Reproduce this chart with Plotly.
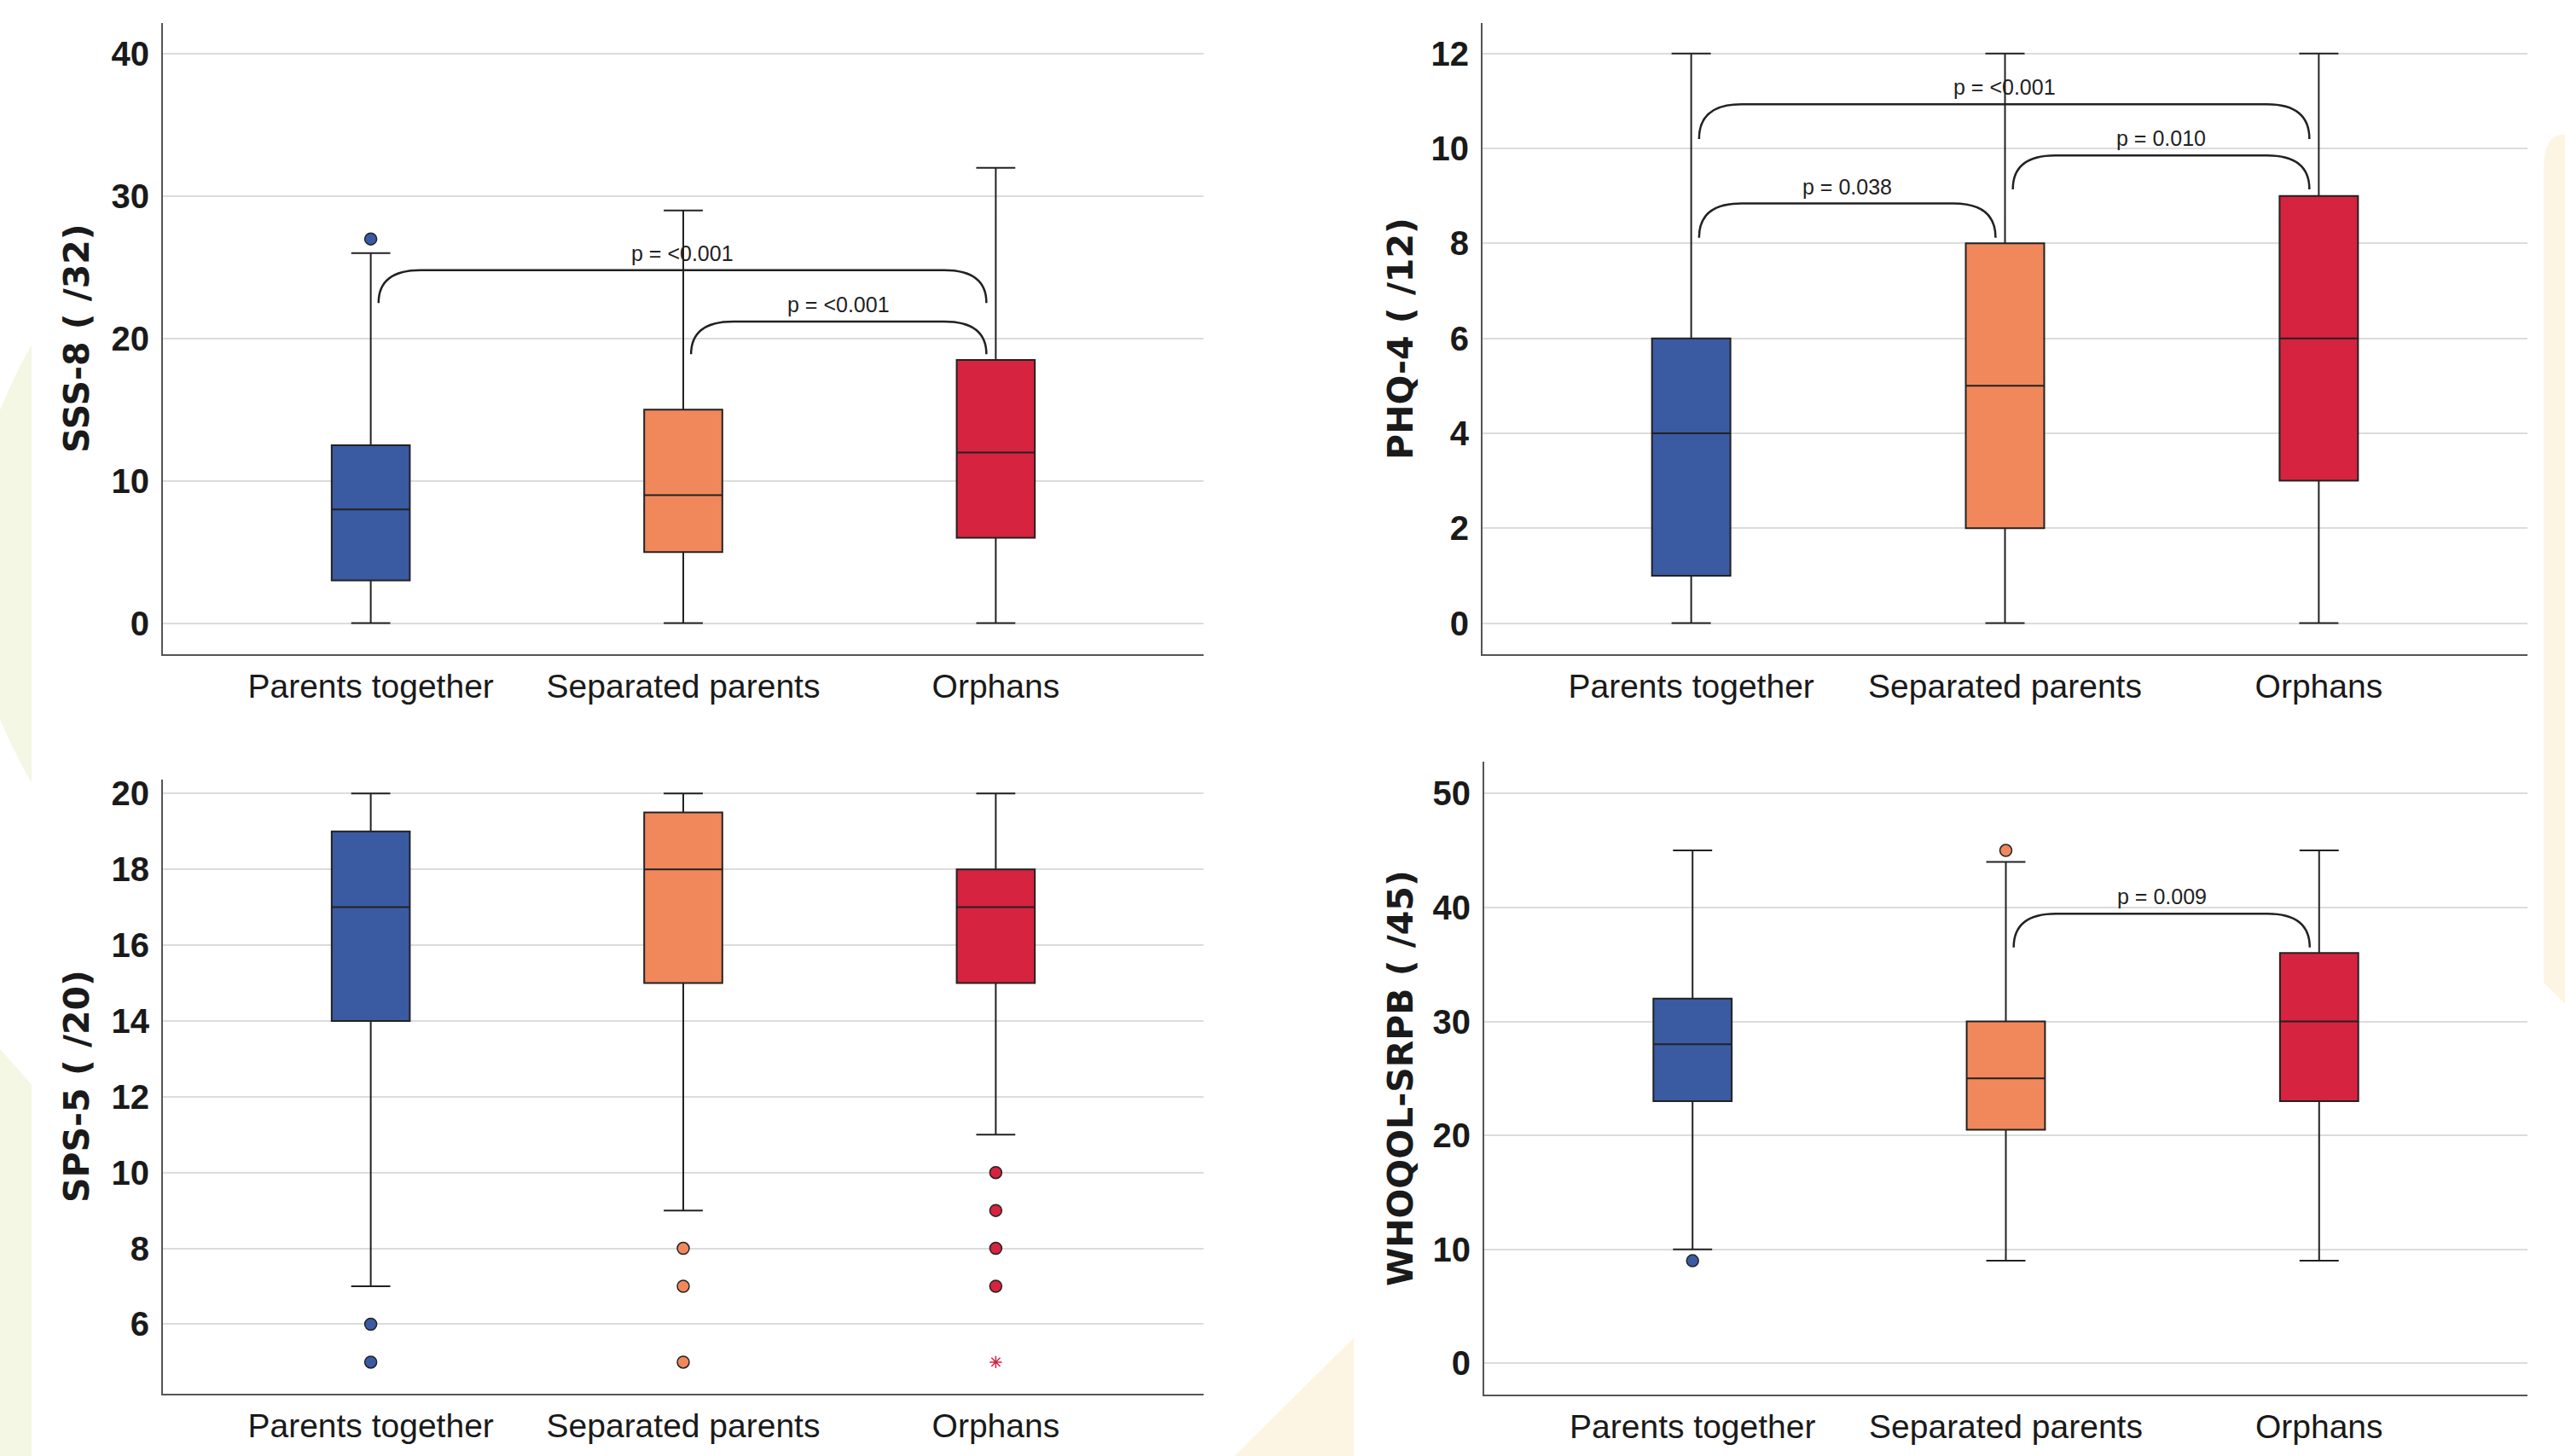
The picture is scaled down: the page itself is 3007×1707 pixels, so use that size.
import plotly.graph_objects as go

W, H = 3007, 1707

categories = ["Parents together", "Separated parents", "Orphans"]
colors = ["#3A5AA2", "#F0885C", "#D6233F"]

# ---- panel data: (lower whisker, Q1, median, Q3, upper whisker) per group
sss_low = [0, 0, 0]
sss_q1 = [3, 5, 6]
sss_med = [8, 9, 12]
sss_q3 = [12.5, 15, 18.5]
sss_high = [26, 29, 32]
sss_out = [[27], [], []]
sss_ext = [[], [], []]

phq_low = [0, 0, 0]
phq_q1 = [1, 2, 3]
phq_med = [4, 5, 6]
phq_q3 = [6, 8, 9]
phq_high = [12, 12, 12]
phq_out = [[], [], []]
phq_ext = [[], [], []]

sps_low = [7, 9, 11]
sps_q1 = [14, 15, 15]
sps_med = [17, 18, 17]
sps_q3 = [19, 19.5, 18]
sps_high = [20, 20, 20]
sps_out = [[6, 5], [8, 7, 5], [10, 9, 8, 7]]
sps_ext = [[], [], [5]]

who_low = [10, 9, 9]
who_q1 = [23, 20.5, 23]
who_med = [28, 25, 30]
who_q3 = [32, 30, 36]
who_high = [45, 44, 45]
who_out = [[9], [45], []]
who_ext = [[], [], []]

# significance brackets: (group i, group j, bracket top, bracket foot, label)
sss_br = [(0, 2, 24.8, 22.5, "p = <0.001"), (1, 2, 21.2, 18.9, "p = <0.001")]
phq_br = [(0, 2, 10.93, 10.2, "p = <0.001"), (0, 1, 8.84, 8.12, "p = 0.038"),
          (1, 2, 9.85, 9.14, "p = 0.010")]
sps_br = []
who_br = [(1, 2, 39.45, 36.5, "p = 0.009")]

titles = ["SSS-8 ( /32)", "PHQ-4 ( /12)", "SPS-5 ( /20)", "WHOQOL-SRPB ( /45)"]

panels = [
    dict(low=sss_low, q1=sss_q1, med=sss_med, q3=sss_q3, high=sss_high, out=sss_out, ext=sss_ext,
         br=sss_br, yr=[-2.2, 42.2], dtick=10, dom_x=[191, 1411], dom_y=[20.6, 764], title_x=90),
    dict(low=phq_low, q1=phq_q1, med=phq_med, q3=phq_q3, high=phq_high, out=phq_out, ext=phq_ext,
         br=phq_br, yr=[-0.66, 12.65], dtick=2, dom_x=[1738, 2963], dom_y=[20.6, 764], title_x=1642),
    dict(low=sps_low, q1=sps_q1, med=sps_med, q3=sps_q3, high=sps_high, out=sps_out, ext=sps_ext,
         br=sps_br, yr=[4.16, 20.37], dtick=2, dom_x=[191, 1411], dom_y=[911, 1634], title_x=90),
    dict(low=who_low, q1=who_q1, med=who_med, q3=who_q3, high=who_high, out=who_out, ext=who_ext,
         br=who_br, yr=[-2.76, 52.8], dtick=10, dom_x=[1740, 2963], dom_y=[890, 1635], title_x=1642),
]


def pxx(x):
    return x / W


def pyy(y):
    return 1 - y / H


fig = go.Figure()
layout = dict(
    width=W, height=H, autosize=False,
    margin=dict(l=0, r=0, t=0, b=0),
    paper_bgcolor="white", plot_bgcolor="white",
    showlegend=False, boxmode="overlay",
)
shapes = []
annotations = []

GREEN = "#F3F7E4"
CREAM = "#FDF5E3"
# background decorations
shapes.append(dict(type="path", xref="paper", yref="paper",
                   path=(f"M {pxx(37)},{pyy(400)} Q {pxx(-110)},{pyy(660)} {pxx(37)},{pyy(915)} Z"),
                   fillcolor=GREEN, line=dict(width=0), layer="below"))
shapes.append(dict(type="path", xref="paper", yref="paper",
                   path=f"M {pxx(0)},{pyy(1228)} L {pxx(37)},{pyy(1270)} L {pxx(37)},{pyy(1707)} L {pxx(0)},{pyy(1707)} Z",
                   fillcolor=GREEN, line=dict(width=0), layer="below"))
shapes.append(dict(type="path", xref="paper", yref="paper",
                   path=f"M {pxx(1447)},{pyy(1707)} L {pxx(1587)},{pyy(1568)} L {pxx(1587)},{pyy(1707)} Z",
                   fillcolor=CREAM, line=dict(width=0), layer="below"))
shapes.append(dict(type="path", xref="paper", yref="paper",
                   path=(f"M {pxx(2982)},{pyy(1150)} L {pxx(2982)},{pyy(190)} "
                         f"Q {pxx(2982)},{pyy(152)} {pxx(3007)},{pyy(152)} "
                         f"L {pxx(3007)},{pyy(1175)} Z"),
                   fillcolor=CREAM, line=dict(width=0), layer="below"))

for k, p in enumerate(panels):
    n = "" if k == 0 else str(k + 1)
    xa, ya = "x" + n, "y" + n
    for i in range(3):
        fig.add_trace(go.Box(
            x=[i], q1=[p["q1"][i]], median=[p["med"][i]], q3=[p["q3"][i]],
            lowerfence=[p["low"][i]], upperfence=[p["high"][i]],
            width=0.25, whiskerwidth=0.5, fillcolor=colors[i],
            line=dict(color="#222222", width=2), boxpoints=False,
            xaxis=xa, yaxis=ya, hoverinfo="skip"))
        if p["out"][i]:
            fig.add_trace(go.Scatter(
                x=[i] * len(p["out"][i]), y=p["out"][i], mode="markers",
                marker=dict(symbol="circle", size=14, color=colors[i],
                            line=dict(color="#222222", width=1.5)),
                xaxis=xa, yaxis=ya, hoverinfo="skip"))
        if p["ext"][i]:
            fig.add_trace(go.Scatter(
                x=[i] * len(p["ext"][i]), y=p["ext"][i], mode="markers",
                marker=dict(symbol="asterisk-open", size=12, color=colors[i],
                            line=dict(color=colors[i], width=1.5)),
                xaxis=xa, yaxis=ya, hoverinfo="skip"))

    layout["xaxis" + n] = dict(
        domain=[pxx(p["dom_x"][0]), pxx(p["dom_x"][1])], anchor=ya,
        range=[-0.665, 2.665], tickmode="array", tickvals=[0, 1, 2], ticktext=categories,
        showgrid=False, zeroline=False, showline=True, linecolor="#555555", linewidth=2,
        ticks="", ticklen=0, ticklabelstandoff=2,
        tickfont=dict(family="Liberation Sans, Arial, sans-serif", size=39, color="#1a1a1a"),
        fixedrange=True)
    layout["yaxis" + n] = dict(
        domain=[pyy(p["dom_y"][1]), pyy(p["dom_y"][0])], anchor=xa,
        range=p["yr"], dtick=p["dtick"], tick0=0,
        showgrid=True, gridcolor="#DCDCDC", gridwidth=2, zeroline=False,
        showline=True, linecolor="#555555", linewidth=2, ticks="", ticklen=0, ticklabelstandoff=6,
        tickfont=dict(family="Liberation Sans, Arial, sans-serif",
                      size=40, color="#1a1a1a", weight="bold"),
        fixedrange=True)

    annotations.append(dict(
        text=titles[k], textangle=-90, xref="paper", yref="paper",
        x=pxx(p["title_x"]), y=pyy((p["dom_y"][0] + p["dom_y"][1]) / 2),
        xanchor="center", yanchor="middle", showarrow=False,
        font=dict(family="DejaVu Sans, Arial, sans-serif", size=41, color="#1a1a1a", weight="bold")))

    dx = 0.135
    for (i, j, ytop, yfoot, lab) in p["br"]:
        x0, x1 = i + 0.025, j - 0.03
        path = (f"M {x0},{yfoot} Q {x0},{ytop} {x0 + dx},{ytop} "
                f"L {x1 - dx},{ytop} Q {x1},{ytop} {x1},{yfoot}")
        shapes.append(dict(type="path", xref=xa, yref=ya, path=path,
                           line=dict(color="#222222", width=2.5)))
        annotations.append(dict(
            text=lab, xref=xa, yref=ya, x=(x0 + x1) / 2, y=ytop,
            xanchor="center", yanchor="bottom", yshift=4, showarrow=False,
            font=dict(family="Liberation Sans, Arial, sans-serif", size=25, color="#222222")))

layout["shapes"] = shapes
layout["annotations"] = annotations
fig.update_layout(**layout)
fig.write_html("out.html",
               config={"displayModeBar": False, "staticPlot": True},
               post_script="document.body.style.margin='0';document.body.style.overflow='hidden';")
